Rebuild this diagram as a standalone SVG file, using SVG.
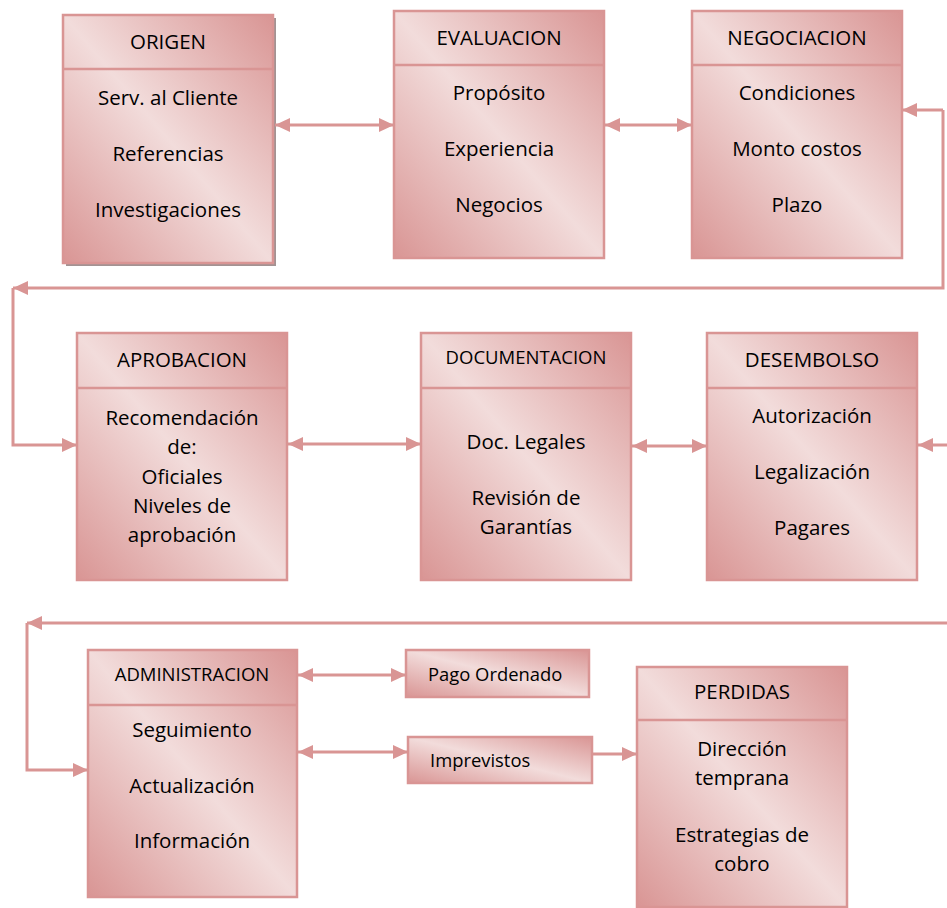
<svg xmlns="http://www.w3.org/2000/svg" width="947" height="908" viewBox="0 0 947 908">
  <defs>
    <linearGradient id="fill" x1="0" y1="1" x2="1" y2="0">
      <stop offset="0" stop-color="#d99594"/>
      <stop offset="0.5" stop-color="#f2dcdb"/>
      <stop offset="1" stop-color="#d99594"/>
    </linearGradient>
    <marker id="arr" markerUnits="userSpaceOnUse" markerWidth="16" markerHeight="16" refX="15" refY="7" orient="auto-start-reverse" viewBox="0 0 16 14">
      <path d="M0,0 L15,7 L0,14 Z" fill="#d99594"/>
    </marker>
  </defs>
  <style>
    .box { fill: url(#fill); stroke: #d99594; stroke-width: 2.5; }
    .sep { stroke: #d99594; stroke-width: 2.5; }
    .t { font-family: "Open Sans", "Liberation Sans", sans-serif; font-size: 20.5px; fill: #000; text-anchor: middle; }
    .ts { font-family: "Open Sans", "Liberation Sans", sans-serif; font-size: 18.5px; fill: #000; text-anchor: middle; }
    .tl { font-family: "Open Sans", "Liberation Sans", sans-serif; font-size: 18.4px; fill: #000; }
    .c { fill: none; stroke: #d99594; stroke-width: 3; }
  </style>
  <rect width="947" height="908" fill="#fff"/>

  <!-- first row -->
  <g id="origen">
    <rect x="66" y="18" width="210" height="248" fill="#a39393"/>
    <rect class="box" x="63" y="15" width="210" height="248"/>
    <line class="sep" x1="63" y1="69" x2="273" y2="69"/>
    <text class="t" x="168" y="49">ORIGEN</text>
    <text class="t" x="168" y="105">Serv. al Cliente</text>
    <text class="t" x="168" y="161">Referencias</text>
    <text class="t" x="168" y="217">Investigaciones</text>
  </g>
  <g id="evaluacion">
    <rect class="box" x="394" y="11" width="210" height="247"/>
    <line class="sep" x1="394" y1="65" x2="604" y2="65"/>
    <text class="t" x="499" y="45">EVALUACION</text>
    <text class="t" x="499" y="100">Propósito</text>
    <text class="t" x="499" y="156">Experiencia</text>
    <text class="t" x="499" y="212">Negocios</text>
  </g>
  <g id="negociacion">
    <rect class="box" x="692" y="11" width="210" height="247"/>
    <line class="sep" x1="692" y1="65" x2="902" y2="65"/>
    <text class="t" x="797" y="45">NEGOCIACION</text>
    <text class="t" x="797" y="100">Condiciones</text>
    <text class="t" x="797" y="156">Monto costos</text>
    <text class="t" x="797" y="212">Plazo</text>
  </g>

  <!-- second row -->
  <g id="aprobacion">
    <rect class="box" x="77" y="333" width="210" height="247"/>
    <line class="sep" x1="77" y1="388" x2="287" y2="388"/>
    <text class="t" x="182" y="367">APROBACION</text>
    <text class="t" x="182" y="425">Recomendación</text>
    <text class="t" x="182" y="454">de:</text>
    <text class="t" x="182" y="484">Oficiales</text>
    <text class="t" x="182" y="513">Niveles de</text>
    <text class="t" x="182" y="542">aprobación</text>
  </g>
  <g id="documentacion">
    <rect class="box" x="421" y="333" width="210" height="247"/>
    <line class="sep" x1="421" y1="388" x2="631" y2="388"/>
    <text class="ts" x="526" y="364">DOCUMENTACION</text>
    <text class="t" x="526" y="449">Doc. Legales</text>
    <text class="t" x="526" y="505">Revisión de</text>
    <text class="t" x="526" y="534">Garantías</text>
  </g>
  <g id="desembolso">
    <rect class="box" x="707" y="333" width="210" height="247"/>
    <line class="sep" x1="707" y1="388" x2="917" y2="388"/>
    <text class="t" x="812" y="367">DESEMBOLSO</text>
    <text class="t" x="812" y="423">Autorización</text>
    <text class="t" x="812" y="479">Legalización</text>
    <text class="t" x="812" y="535">Pagares</text>
  </g>

  <!-- third row -->
  <g id="administracion">
    <rect class="box" x="88" y="650" width="209" height="247"/>
    <line class="sep" x1="88" y1="705" x2="297" y2="705"/>
    <text class="ts" x="192" y="681">ADMINISTRACION</text>
    <text class="t" x="192" y="737">Seguimiento</text>
    <text class="t" x="192" y="793">Actualización</text>
    <text class="t" x="192" y="848">Información</text>
  </g>
  <g id="pago-ordenado">
    <rect class="box" x="406" y="650" width="183" height="47"/>
    <text class="tl" x="428" y="681">Pago Ordenado</text>
  </g>
  <g id="imprevistos">
    <rect class="box" x="408" y="737" width="184" height="46"/>
    <text class="tl" x="430" y="767">Imprevistos</text>
  </g>
  <g id="perdidas">
    <rect class="box" x="637" y="667" width="210" height="240"/>
    <line class="sep" x1="637" y1="720" x2="847" y2="720"/>
    <text class="t" x="742" y="699">PERDIDAS</text>
    <text class="t" x="742" y="756">Dirección</text>
    <text class="t" x="742" y="785">temprana</text>
    <text class="t" x="742" y="842">Estrategias de</text>
    <text class="t" x="742" y="871">cobro</text>
  </g>

  <!-- connectors -->
  <g id="connectors">
    <line class="c" x1="275" y1="125" x2="394" y2="125" marker-start="url(#arr)" marker-end="url(#arr)"/>
    <line class="c" x1="605" y1="125" x2="692" y2="125" marker-start="url(#arr)" marker-end="url(#arr)"/>
    <polyline class="c" points="943,110 943,288 13,288" marker-end="url(#arr)"/>
    <line class="c" x1="943" y1="110" x2="902" y2="110" marker-end="url(#arr)"/>
    <polyline class="c" points="13,288 13,445 77,445" marker-end="url(#arr)"/>
    <line class="c" x1="288" y1="444" x2="421" y2="444" marker-start="url(#arr)" marker-end="url(#arr)"/>
    <line class="c" x1="632" y1="446" x2="707" y2="446" marker-start="url(#arr)" marker-end="url(#arr)"/>
    <line class="c" x1="947" y1="445" x2="918" y2="445" marker-end="url(#arr)"/>
    <line class="c" x1="947" y1="623" x2="27" y2="623" marker-end="url(#arr)"/>
    <polyline class="c" points="27,623 27,770 88,770" marker-end="url(#arr)"/>
    <line class="c" x1="298" y1="675" x2="406" y2="675" marker-start="url(#arr)" marker-end="url(#arr)"/>
    <line class="c" x1="298" y1="752" x2="408" y2="752" marker-start="url(#arr)" marker-end="url(#arr)"/>
    <line class="c" x1="592" y1="754" x2="637" y2="754" marker-end="url(#arr)"/>
  </g>
</svg>
